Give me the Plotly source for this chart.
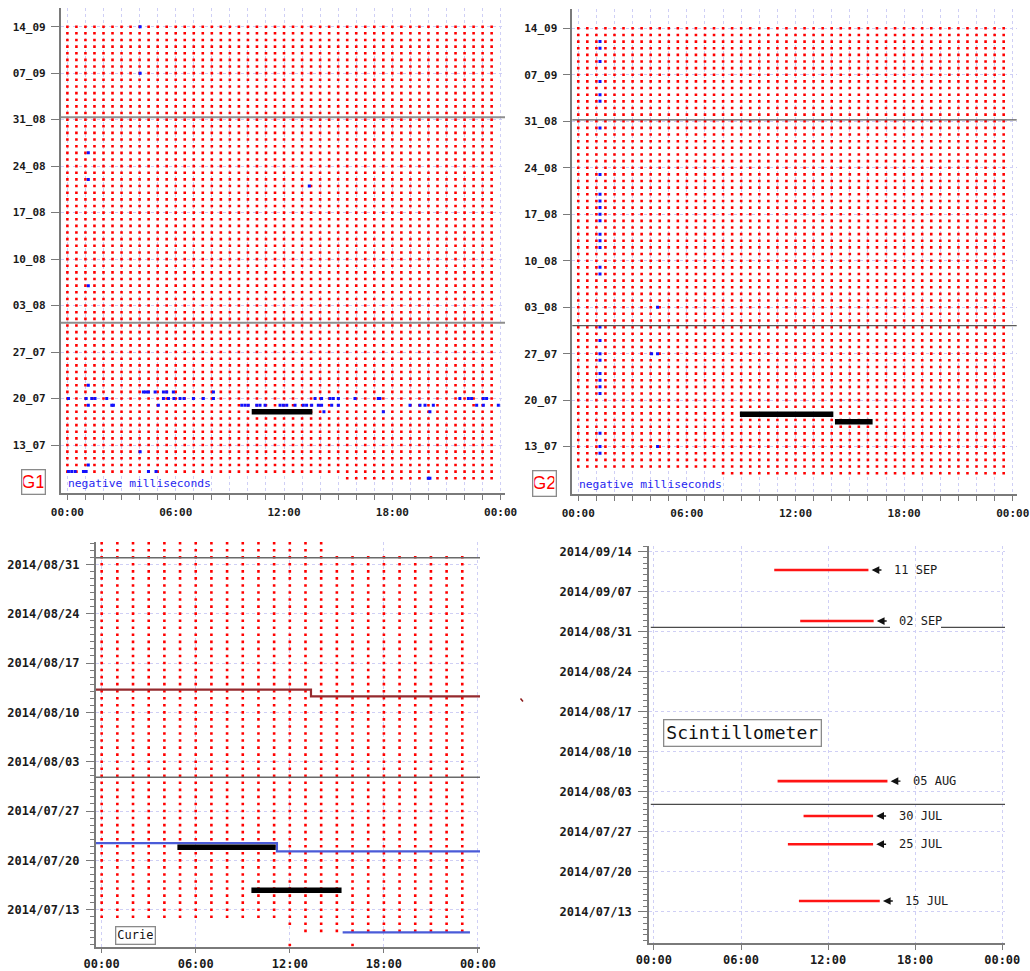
import pandas as pd
import plotly.graph_objects as go

W, H = 1030, 971

# ------------------------------------------------------------------ data
# record coverage (one red dot per record): (first record, last record)
G1_COVERAGE = [("2014-07-08 15:30", "2014-09-14 23:30")]
G2_COVERAGE = [("2014-07-09 08:00", "2014-09-14 23:30")]
GPS_STEP = "30min"
CURIE_COVERAGE = [
    ("2014-07-08 12:00", "2014-07-08 12:00"),
    ("2014-07-08 16:00", "2014-07-08 16:00"),
    ("2014-07-10 13:00", "2014-07-10 23:00"),
    ("2014-07-11 12:00", "2014-09-01 23:00"),
    ("2014-09-02 00:00", "2014-09-02 14:00"),
    ("2014-09-03 00:00", "2014-09-03 14:00"),
]
CURIE_STEP = "1h"

# "negative milliseconds" records (day, hours of day)
G1_NEGATIVE = [
    ("2014-09-14", [4.03]),
    ("2014-09-07", [4.03]),
    ("2014-08-26", [1.16]),
    ("2014-08-22", [1.16]),
    ("2014-08-21", [13.40]),
    ("2014-08-06", [1.16]),
    ("2014-07-22", [1.16]),
    ("2014-07-21", [4.21, 4.34, 4.49, 4.86, 5.32, 5.50, 5.87, 8.09]),
    ("2014-07-20", [0.06, 1.04, 1.35, 1.53, 2.18, 5.32, 5.60, 5.90, 6.24, 6.46, 6.98,
                    7.53, 8.09, 13.72, 14.08, 14.55, 14.73, 15.01, 15.93, 17.22,
                    17.31, 21.74, 22.21, 22.39, 23.04, 23.22]),
    ("2014-07-19", [1.16, 2.46, 2.55, 5.04, 9.66, 9.84, 10.02, 10.49, 10.67, 10.95,
                    11.78, 11.96, 12.15, 12.61, 13.07, 13.25, 13.53, 13.90, 14.08,
                    14.64, 15.01, 18.98, 19.53, 19.81, 20.27, 22.67, 23.04, 23.87]),
    ("2014-07-18", [14.21, 17.50, 20.08]),
    ("2014-07-12", [4.03]),
    ("2014-07-10", [1.16]),
    ("2014-07-09", [0.06, 0.24, 0.43, 0.89, 1.04, 4.49, 4.91]),
    ("2014-07-08", [19.99, 20.08]),
]
G2_NEGATIVE = [
    ("2014-09-12", [1.2]), ("2014-09-11", [1.2]), ("2014-09-09", [1.2]),
    ("2014-09-06", [1.2]), ("2014-09-04", [1.2]), ("2014-09-03", [1.2]),
    ("2014-08-30", [1.2]), ("2014-08-23", [1.2]), ("2014-08-20", [1.2]),
    ("2014-08-19", [1.2]), ("2014-08-18", [1.2]), ("2014-08-17", [1.2]),
    ("2014-08-16", [1.2]), ("2014-08-14", [1.2]), ("2014-08-13", [1.2]),
    ("2014-08-12", [1.2]), ("2014-08-09", [1.2]), ("2014-08-08", [1.2]),
    ("2014-08-03", [4.38]),
    ("2014-07-31", [1.2]), ("2014-07-29", [1.2]), ("2014-07-27", [1.2, 4.05, 4.38]),
    ("2014-07-26", [1.2]), ("2014-07-24", [1.2]), ("2014-07-23", [1.2]),
    ("2014-07-22", [1.2]), ("2014-07-21", [1.2]), ("2014-07-15", [1.2]),
    ("2014-07-13", [1.2, 4.38]), ("2014-07-12", [1.2]),
]

# black bars (day, start hour, end hour)
G1_BAR_DATES = ["2014-07-18 00:00"]
G1_BAR_START = [10.21]
G1_BAR_END = [13.57]
G2_BAR_DATES = ["2014-07-17 21:00", "2014-07-16 18:00"]
G2_BAR_START = [8.93, 14.18]
G2_BAR_END = [14.09, 16.26]
CURIE_BAR_DATES = ["2014-07-21 21:00", "2014-07-15 18:00"]
CURIE_BAR_START = [4.83, 9.55]
CURIE_BAR_END = [11.10, 15.30]

# Curie step lines
CURIE_RED_HOURS = [-0.38, 13.35, 13.35, 24.13]
CURIE_RED_DATES = ["2014-08-13 05:15", "2014-08-13 05:15", "2014-08-12 06:30", "2014-08-12 06:30"]
CURIE_BLUE_HOURS = [-0.38, 11.18, 11.18, 24.19]
CURIE_BLUE_DATES = ["2014-07-22 10:50", "2014-07-22 10:50", "2014-07-21 06:40", "2014-07-21 06:40"]
CURIE_BLUE2_HOURS = [15.37, 23.49]
CURIE_BLUE2_DATES = ["2014-07-09 19:00", "2014-07-09 19:00"]

# Scintillometer runs
SCINT_LABELS = ["11 SEP", "02 SEP", "05 AUG", "30 JUL", "25 JUL", "15 JUL"]
SCINT_DATES = ["2014-09-10 19:00", "2014-09-01 21:00", "2014-08-04 21:00",
               "2014-07-29 19:00", "2014-07-24 20:30", "2014-07-14 22:00"]
SCINT_START = [8.29, 10.08, 8.52, 10.31, 9.23, 9.99]
SCINT_END = [14.78, 15.14, 16.09, 15.10, 15.10, 15.56]

# weekly date ticks
WEEK_TICKS = ["2014-07-13", "2014-07-20", "2014-07-27", "2014-08-03", "2014-08-10",
              "2014-08-17", "2014-08-24", "2014-08-31", "2014-09-07", "2014-09-14"]

# ------------------------------------------------------------------ helpers
BASE = pd.Timestamp("2000-01-01")
MONO = "DejaVu Sans Mono"
AX = "#7a7a7a"
GRID = "#cfcff5"
TXT = "#1a1a1a"


def hx(h):
    return (BASE + pd.Timedelta(hours=h)).strftime("%Y-%m-%d %H:%M:%S")


def xdom(a, b):
    return [a / W, b / W]


def ydom(top, bottom):
    return [1 - bottom / H, 1 - top / H]


def coverage(segments, step):
    xs, ys = [], []
    for a, b in segments:
        rng = pd.date_range(a, b, freq=step)
        xs += [hx(t.hour + t.minute / 60) for t in rng]
        ys += list(rng.normalize().strftime("%Y-%m-%d"))
    return xs, ys


def neg_points(rows):
    xs, ys = [], []
    for d, hs in rows:
        for h in hs:
            xs.append(hx(h))
            ys.append(d)
    return xs, ys


def bars(dates, starts, ends):
    xs, ys = [], []
    for d, s, e in zip(dates, starts, ends):
        xs += [hx(s), hx(e), None]
        ys += [d, d, None]
    return xs, ys


fig = go.Figure()


def add(trace, n):
    sfx = "" if n == 1 else str(n)
    trace.update(xaxis="x" + sfx, yaxis="y" + sfx)
    fig.add_trace(trace)


# ---- dots
for n, cov, step in [(1, G1_COVERAGE, GPS_STEP), (2, G2_COVERAGE, GPS_STEP),
                     (3, CURIE_COVERAGE, CURIE_STEP)]:
    x, y = coverage(cov, step)
    add(go.Scatter(x=x, y=y, mode="markers", hoverinfo="skip",
                   marker=dict(symbol="square", size=2.6, color="#ff0000",
                               line=dict(width=0))), n)

for n, rows in [(1, G1_NEGATIVE), (2, G2_NEGATIVE)]:
    x, y = neg_points(rows)
    add(go.Scatter(x=x, y=y, mode="markers", hoverinfo="skip",
                   marker=dict(symbol="square", size=3, color="#1010ff",
                               line=dict(width=0))), n)

# ---- Curie lines
add(go.Scatter(x=[hx(h) for h in CURIE_RED_HOURS], y=CURIE_RED_DATES, mode="lines",
               line=dict(color="#952a2e", width=2.2), hoverinfo="skip"), 3)
add(go.Scatter(x=[hx(h) for h in CURIE_BLUE_HOURS], y=CURIE_BLUE_DATES, mode="lines",
               line=dict(color="#4a5bd8", width=2.2), hoverinfo="skip"), 3)
add(go.Scatter(x=[hx(h) for h in CURIE_BLUE2_HOURS], y=CURIE_BLUE2_DATES, mode="lines",
               line=dict(color="#4a5bd8", width=2.2), hoverinfo="skip"), 3)

# ---- black bars
for n, (d, s, e) in [(1, (G1_BAR_DATES, G1_BAR_START, G1_BAR_END)),
                     (2, (G2_BAR_DATES, G2_BAR_START, G2_BAR_END)),
                     (3, (CURIE_BAR_DATES, CURIE_BAR_START, CURIE_BAR_END))]:
    x, y = bars(d, s, e)
    add(go.Scatter(x=x, y=y, mode="lines", line=dict(color="#000000", width=5.5),
                   hoverinfo="skip", connectgaps=False), n)

# ---- scintillometer bars
x, y = bars(SCINT_DATES, SCINT_START, SCINT_END)
add(go.Scatter(x=x, y=y, mode="lines", line=dict(color="#ff1414", width=2.6),
               hoverinfo="skip", connectgaps=False), 4)

# ------------------------------------------------------------------ axes
DAY = 86400000


def make_x(dom, lo, hi, fs, hourly, standoff, tlen):
    d = dict(domain=dom, type="date", range=[hx(lo), hx(hi)], automargin=False,
             tickmode="linear", tick0=hx(0), dtick=6 * 3600000, tickformat="%H:%M",
             showline=True, linecolor=AX, linewidth=1.5, ticks="outside",
             ticklen=tlen, tickwidth=1.2, tickcolor=AX,
             tickfont=dict(family=MONO, size=fs, color=TXT, weight="bold"),
             ticklabelstandoff=standoff,
             showgrid=True, gridcolor=GRID, griddash="dot", gridwidth=1,
             zeroline=False, fixedrange=True)
    if hourly:
        d["minor"] = dict(tick0=hx(0), dtick=3600000, ticks="outside", ticklen=5,
                          tickcolor=AX, tickwidth=1.2, showgrid=True,
                          gridcolor=GRID, griddash="dot", gridwidth=1)
    return d


def make_y(dom, lo, hi, fmt, fs, daily, tlen, standoff):
    d = dict(domain=dom, type="date", range=[lo, hi], tickmode="array",
             automargin=False, tickvals=WEEK_TICKS, tickformat=fmt,
             showline=True, linecolor=AX, linewidth=1.5, ticks="outside",
             ticklen=tlen, tickwidth=1.2, tickcolor=AX,
             tickfont=dict(family=MONO, size=fs, color=TXT, weight="bold"),
             ticklabelstandoff=standoff,
             showgrid=True, gridcolor=GRID, griddash="dot", gridwidth=1,
             zeroline=False, fixedrange=True)
    if daily:
        d["minor"] = dict(tickmode="linear", tick0="2014-07-13", dtick=DAY,
                          ticks="outside", ticklen=4,
                          tickcolor=AX, tickwidth=1, showgrid=False)
    return d


layout = dict(
    width=W, height=H, margin=dict(l=0, r=0, t=0, b=0, pad=0), autosize=False,
    paper_bgcolor="white", plot_bgcolor="white", showlegend=False,
    xaxis=dict(make_x(xdom(60.7, 505), -0.37, 24.24, 11, True, 3, 5), anchor="y"),
    yaxis=dict(make_y(ydom(8, 493.3), "2014-07-05 17:30", "2014-09-16 19:30",
                      "%d_%m", 11, False, 8, 3), anchor="x"),
    xaxis2=dict(make_x(xdom(572.3, 1016.7), -0.33, 24.22, 11, True, 3, 5), anchor="y2"),
    yaxis2=dict(make_y(ydom(9.3, 494.3), "2014-07-05 19:40", "2014-09-16 20:40",
                       "%d_%m", 11, False, 8, 3), anchor="x2"),
    xaxis3=dict(make_x(xdom(95.7, 480), -0.38, 24.13, 12, False, 0, 5), anchor="y3"),
    yaxis3=dict(make_y(ydom(542, 946.7), "2014-07-07 18:00", "2014-09-03 04:00",
                       "%Y/%m/%d", 12, True, 8, 4), anchor="x3"),
    xaxis4=dict(make_x(xdom(649, 1005), -0.34, 24.19, 12, False, 0, 5), anchor="y4"),
    yaxis4=dict(make_y(ydom(546, 943.3), "2014-07-07 12:30", "2014-09-15 00:00",
                       "%Y/%m/%d", 12, True, 9, 4), anchor="x4"),
)
fig.update_layout(**layout)

# ------------------------------------------------------------------ shapes
shapes = []


def hline(n, date, color, width, x0=0, x1=1):
    sfx = "" if n == 1 else str(n)
    shapes.append(dict(type="line", xref="x" + sfx + " domain", yref="y" + sfx,
                       x0=x0, x1=x1, y0=date, y1=date,
                       line=dict(color=color, width=width)))


hline(1, "2014-08-31 08:40", "#8e8e8e", 1.8)
hline(1, "2014-07-31 10:00", "#8e8e8e", 1.8)
hline(2, "2014-08-31 04:50", "#5a5a5a", 1.1)
hline(2, "2014-07-31 05:30", "#5a5a5a", 1.1)
hline(3, "2014-08-31 22:30", "#6a6a6a", 1.4)
hline(3, "2014-07-31 19:00", "#6a6a6a", 1.4)
hline(4, "2014-08-31 18:30", "#4a4a4a", 1.2, 0.005, (890 - 649) / 356)
hline(4, "2014-08-31 18:30", "#4a4a4a", 1.2, (941 - 649) / 356, 1)
hline(4, "2014-07-31 19:10", "#4a4a4a", 1.2, 0.005, 1)

# stray mark between lower panels
shapes.append(dict(type="line", xref="paper", yref="paper",
                   x0=520.5 / W, x1=523 / W, y0=1 - 698.5 / H, y1=1 - 701.5 / H,
                   line=dict(color="#8b1a1a", width=1.5)))
fig.update_layout(shapes=shapes)

# ------------------------------------------------------------------ annotations
ann = []


def box(cx, cy, text, size, color, w, h, family=MONO, bw=1.3):
    ann.append(dict(xref="paper", yref="paper", x=cx / W, y=1 - cy / H,
                    xanchor="center", yanchor="middle", showarrow=False,
                    text=text, font=dict(family=family, size=size, color=color),
                    bordercolor="#8a8a8a", borderwidth=bw, borderpad=1,
                    bgcolor="white", width=w, height=h))


box(33.3, 481.8, "G1", 18, "#ff0000", 20, 21, family="Liberation Sans")
box(544.8, 483.3, "G2", 18, "#ff0000", 20, 22, family="Liberation Sans")
box(135.7, 935.2, "Curie", 12, "#111111", 36, 14)
box(742.5, 733.0, "Scintillometer", 18, "#111111", 154, 23)

for px, py in [(65.7, 483.5), (577.3, 484.3)]:
    ann.append(dict(xref="paper", yref="paper", x=px / W, y=1 - py / H,
                    xanchor="left", yanchor="middle", showarrow=False,
                    text="negative milliseconds",
                    font=dict(family=MONO, size=11.3, color="#2626f0")))

for lab, d, e in zip(SCINT_LABELS, SCINT_DATES, SCINT_END):
    ann.append(dict(xref="x4", yref="y4", x=hx(e + 0.22), y=d,
                    axref="x4", ayref="y4", ax=hx(e + 1.0), ay=d,
                    text="", showarrow=True, arrowhead=2, arrowsize=1.1,
                    arrowwidth=1.4, arrowcolor="#111111", standoff=0, startstandoff=0))
    ann.append(dict(xref="x4", yref="y4", x=hx(e + 1.62), y=d,
                    xanchor="left", yanchor="middle", showarrow=False, text=lab,
                    font=dict(family=MONO, size=12, color="#1a1a1a")))

fig.update_layout(annotations=ann)

fig.write_html("out.html", config={"displayModeBar": False},
               post_script="document.body.style.margin='0';"
                           "document.body.style.overflow='hidden';")
